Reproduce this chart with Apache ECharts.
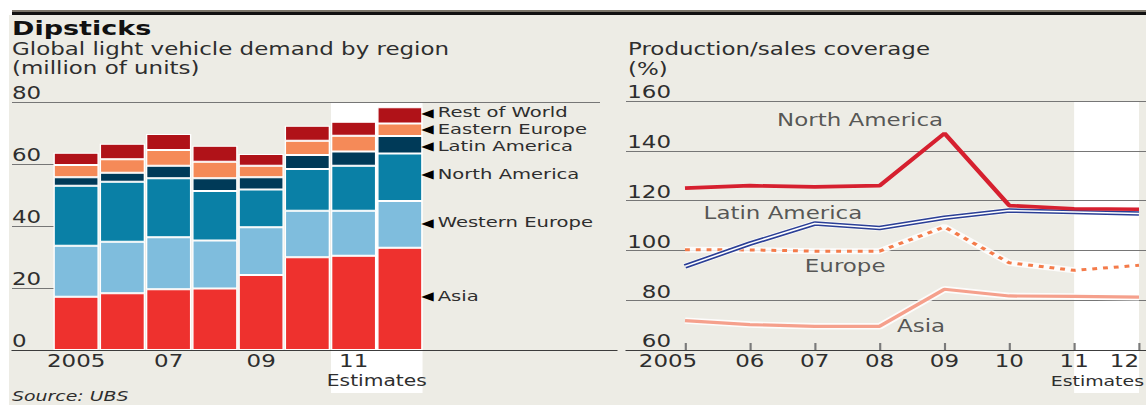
<!DOCTYPE html>
<html>
<head>
<meta charset="utf-8">
<title>Dipsticks</title>
<script src="https://cdn.jsdelivr.net/npm/echarts@6/dist/echarts.min.js"></script>
<style>
  html, body { margin: 0; padding: 0; background: #fff; width: 1146px; height: 405px; overflow: hidden; }
  #panel { position: absolute; left: 9px; top: 15px; width: 1137px; height: 390px; background: #edece5; }
  #rule { position: absolute; left: 12px; top: 10px; width: 1134px; height: 3px; border-top: 2px solid #7b756a; background: #111; }
  #chart { position: absolute; left: 0; top: 0; height: 405px; transform-origin: 0 0; }
</style>
</head>
<body>
<div id="panel"></div>
<div id="rule"></div>
<div id="chart"></div>
<script>
// The graphic is drawn at a narrower width and stretched horizontally,
// which gives the wide letterforms of the printed style.
const SX = 1.35;
const px = x => x / SX;   // page x -> chart x

// ---- Left panel: global light vehicle demand by region (million units)
const years = ['2005', '06', '07', '08', '09', '10', '11', '12'];
const asia          = [17.2, 18.3, 19.6, 19.8, 24.2, 29.9, 30.4, 33.0];
const westernEurope = [16.4, 16.6, 16.8, 15.5, 15.4, 15.0, 14.5, 15.1];
const northAmerica  = [19.4, 19.4, 19.0, 16.0, 12.2, 13.5, 14.5, 15.3];
const latinAmerica  = [2.7, 2.9, 4.0, 4.1, 3.9, 4.5, 4.6, 5.6];
const easternEurope = [4.0, 4.3, 5.1, 5.3, 3.7, 4.6, 5.1, 4.1];
const restOfWorld   = [3.9, 5.0, 5.2, 5.2, 3.8, 4.8, 4.5, 5.2];
const demandMin = 0, demandMax = 80, demandStep = 20;

// ---- Right panel: production/sales coverage (%)
const coverageYears = [2005, 2006, 2007, 2008, 2009, 2010, 2011, 2012];
const naCoverage   = [125.0, 126.0, 125.5, 126.0, 147.0, 118.0, 116.7, 116.5];
const laCoverage   = [93.6, 102.7, 110.8, 109.0, 113.1, 116.0, 115.4, 114.8];
const euCoverage   = [100.3, 100.2, 99.7, 99.7, 109.4, 95.0, 92.0, 94.0];
const asiaCoverage = [71.8, 70.2, 69.5, 69.5, 84.4, 81.7, 81.5, 81.2];
const coverageMin = 60, coverageMax = 160, coverageStep = 20;
// line captions: [text, year, percent]
const lineCaptions = [
  ['North America', 2007.70, 152.4],
  ['Latin America', 2006.51, 115.1],
  ['Europe',        2007.47, 93.7],
  ['Asia',          2008.64, 69.4]
];

const FONT = '"DejaVu Sans", Verdana, sans-serif';
const INK = '#2e2e2e';
const GRIDLINE = '#767676';
const AXIS = '#3c3c3c';

const chartEl = document.getElementById('chart');
chartEl.style.width = (1146 / SX) + 'px';
const chart = echarts.init(chartEl, null, { renderer: 'svg' });
chartEl.style.transform = 'scaleX(' + SX + ')';

// keyOffset nudges each key label vertically off its segment's middle
const regions = [
  { name: 'Asia',           data: asia,          color: '#ee312e', keyOffset: -3 },
  { name: 'Western Europe', data: westernEurope, color: '#7fbddd', keyOffset: -2 },
  { name: 'North America',  data: northAmerica,  color: '#0a80a6', keyOffset: -3 },
  { name: 'Latin America',  data: latinAmerica,  color: '#003a58', keyOffset: 1.5 },
  { name: 'Eastern Europe', data: easternEurope, color: '#f58a58', keyOffset: -0.5 },
  { name: 'Rest of World',  data: restOfWorld,   color: '#b01218', keyOffset: -3 }
];

const gridBase = { outerBoundsMode: 'none', containLabel: false, top: 102, bottom: 55 };
const grids = [
  { left: px(12),  width: px(43) },                 // short gridline stubs + y labels
  { left: px(53),  width: px(370) },                // bars
  { left: px(12),  width: px(588) },                // top rule at 80
  { left: px(12),  width: px(605) },                // base line
  { left: px(626), width: px(520), top: 101 },      // coverage gridlines
  { left: px(685), width: px(454), top: 101 }       // coverage lines
].map(g => Object.assign({}, gridBase, g));

const labelText = { fontFamily: FONT, fontSize: 17, color: INK };
const hiddenAxis = (gridIndex, min, max) => ({ gridIndex, type: 'value', min, max, show: false });
const baseLine = gridIndex => ({
  gridIndex, type: 'value', min: 0, max: 1,
  axisLine: { show: true, onZero: false, lineStyle: { color: AXIS, width: 1 } },
  axisTick: { show: false }, axisLabel: { show: false }, splitLine: { show: false }
});

const xAxis = [
  hiddenAxis(0, 0, 1),
  {
    gridIndex: 1, type: 'category', data: years,
    axisLine: { show: false }, axisTick: { show: false }, splitLine: { show: false },
    axisLabel: Object.assign({ interval: 1, margin: 3, lineHeight: 17 }, labelText)
  },
  hiddenAxis(2, 0, 1),
  baseLine(3),
  baseLine(4),
  {
    gridIndex: 5, type: 'value', min: coverageYears[0], max: coverageYears[coverageYears.length - 1], interval: 1,
    axisLine: { show: false }, splitLine: { show: false },
    axisTick: { show: true, inside: true, length: 7, lineStyle: { color: '#7a7a7a', width: 1.6 } },
    axisLabel: Object.assign({
      margin: 3, lineHeight: 17,
      showMinLabel: true, showMaxLabel: true, hideOverlap: false,
      alignMaxLabel: 'right',
      formatter: v => v === coverageYears[0] ? '{first|' + v + '}' : String(v).slice(2),
      rich: { first: Object.assign({ padding: [0, px(34), 0, 0] }, labelText) }
    }, labelText)
  }
];

const yAxis = [
  {
    gridIndex: 0, type: 'value', min: demandMin, max: demandMax, interval: demandStep,
    axisLine: { show: false }, axisTick: { show: false },
    splitLine: { show: true, lineStyle: { color: GRIDLINE, width: 1 } },
    axisLabel: Object.assign({ align: 'left', verticalAlign: 'bottom', margin: 0, lineHeight: 17 }, labelText)
  },
  hiddenAxis(1, demandMin, demandMax),
  {
    gridIndex: 2, type: 'value', min: demandMin, max: demandMax, interval: demandMax - demandMin,
    axisLine: { show: false }, axisTick: { show: false }, axisLabel: { show: false },
    splitLine: { show: true, showMinLine: false, lineStyle: { color: GRIDLINE, width: 1 } }
  },
  hiddenAxis(3, demandMin, demandMax),
  {
    gridIndex: 4, type: 'value', min: coverageMin, max: coverageMax, interval: coverageStep,
    axisLine: { show: false }, axisTick: { show: false },
    splitLine: { show: true, showMinLine: false, lineStyle: { color: GRIDLINE, width: 1 } },
    axisLabel: Object.assign({ align: 'right', verticalAlign: 'bottom', margin: -px(45), lineHeight: 17 }, labelText)
  },
  hiddenAxis(5, coverageMin, coverageMax)
];

// stacked demand bars; the last bar carries the region key
const barSeries = regions.map(r => ({
  type: 'bar', name: r.name, stack: 'demand',
  xAxisIndex: 1, yAxisIndex: 1,
  barCategoryGap: '2%',
  itemStyle: { color: r.color, borderColor: '#ffffff', borderWidth: 1 },
  label: {
    show: false, position: 'right', distance: -1,
    formatter: () => '{arrow|\u25C0}{txt|' + r.name + '}',
    rich: {
      arrow: { fontFamily: FONT, fontSize: 12, lineHeight: 12, color: '#000', padding: [0, 3, 0, 0] },
      txt: { fontFamily: FONT, fontSize: 14.5, lineHeight: 13, color: INK }
    }
  },
  emphasis: { disabled: true },
  data: r.data.map((v, i) => i === r.data.length - 1
    ? { value: v, label: { show: true, offset: [0, r.keyOffset] } }
    : v)
}));

const pairs = arr => coverageYears.map((y, i) => [y, arr[i]]);
const line = (data, lineStyle, z) => ({
  type: 'line', xAxisIndex: 5, yAxisIndex: 5, data: pairs(data),
  symbol: 'none', silent: true, z, lineStyle, emphasis: { disabled: true }
});

const lineSeries = [
  line(asiaCoverage, { color: '#ffffff', width: 6.5, opacity: 0.85 }, 3),
  line(asiaCoverage, { color: '#f5a08c', width: 3.2 }, 3),
  line(euCoverage,   { color: '#ffffff', width: 6, opacity: 0.85 }, 4),
  line(euCoverage,   { color: '#f47b4a', width: 3, type: [3.6, 4.4], cap: 'butt' }, 4),
  line(laCoverage,   { color: '#ffffff', width: 6.5, opacity: 0.6 }, 5),
  line(laCoverage,   { color: '#2b3f96', width: 4.6 }, 5),
  line(laCoverage,   { color: '#ffffff', width: 1.5 }, 5),
  line(naCoverage,   { color: '#d6202f', width: 3.6 }, 6),
  {
    type: 'scatter', xAxisIndex: 5, yAxisIndex: 5, symbolSize: 0, silent: true, z: 7,
    data: lineCaptions.map(c => ({ name: c[0], value: [c[1], c[2]] })),
    label: Object.assign({ show: true, position: 'inside', formatter: '{b}' }, labelText)
  }
];

chart.setOption({
  animation: false,
  backgroundColor: 'transparent',
  grid: grids,
  xAxis,
  yAxis,
  series: barSeries.concat(lineSeries)
});

// Estimate shading and text, positioned from the axes' own scales
const toX = (i, v) => chart.convertToPixel({ xAxisIndex: i }, v);
const toY = (i, v) => chart.convertToPixel({ yAxisIndex: i }, v);
const c11 = toX(1, '11'), c12 = toX(1, '12');
const band = c12 - c11;
const leftX0 = c11 - band * 0.49, leftX1 = c12 + band * 0.49;
const rightX0 = toX(5, 2011), rightX1 = toX(5, 2012);
const shadeBottom = 393;

const text = (x, y, str, extra) => ({
  type: 'text', x, y, silent: true,
  style: Object.assign({
    text: str, fontFamily: FONT, fontSize: 17, fill: INK,
    align: 'left', verticalAlign: 'middle', textAlign: 'left', textVerticalAlign: 'middle'
  }, extra || {})
});

chart.setOption({
  graphic: [
    { type: 'rect', z: -1, silent: true,
      shape: { x: leftX0, y: toY(1, demandMax) + 1, width: leftX1 - leftX0, height: shadeBottom - toY(1, demandMax) - 1 },
      style: { fill: '#ffffff' } },
    { type: 'rect', z: -1, silent: true,
      shape: { x: rightX0, y: toY(5, coverageMax) + 1, width: rightX1 - rightX0, height: shadeBottom - toY(5, coverageMax) - 1 },
      style: { fill: '#ffffff' } },
    text(px(12), 28, 'Dipsticks', { fontSize: 20, fontWeight: 'bold', fill: '#111' }),
    text(px(12), 49, 'Global light vehicle demand by region'),
    text(px(12), 68, '(million of units)'),
    text(px(628), 49, 'Production/sales coverage'),
    text(px(628), 69, '(%)'),
    text((c11 + c12) / 2, 381, 'Estimates', { fontSize: 15, align: 'center', textAlign: 'center' }),
    text(px(1144), 381, 'Estimates', { fontSize: 14, align: 'right', textAlign: 'right' }),
    text(px(12), 396, 'Source: UBS', { fontSize: 14, fontStyle: 'italic' })
  ]
});
</script>
</body>
</html>
